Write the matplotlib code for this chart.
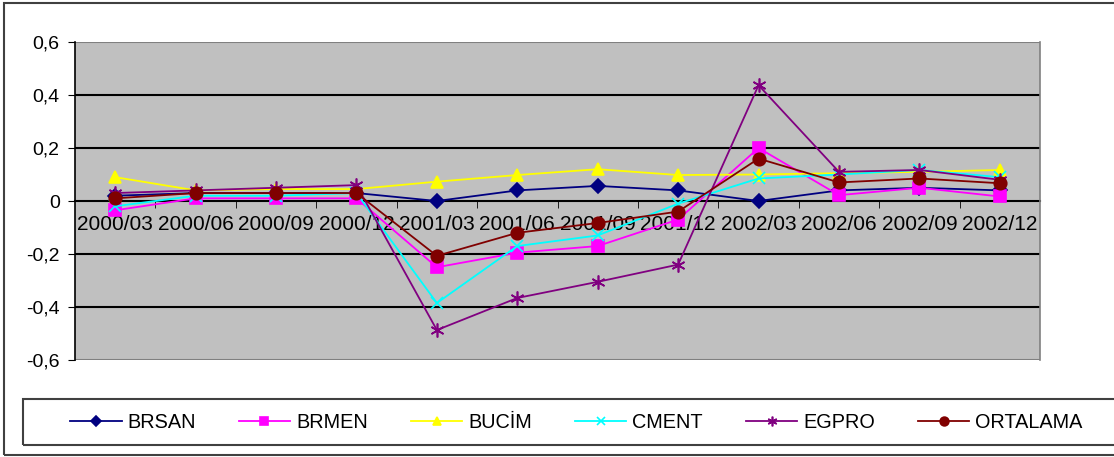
import matplotlib
matplotlib.use("Agg")
import matplotlib.pyplot as plt
from matplotlib.patches import Rectangle

plt.rcParams['font.family'] = ['Liberation Sans', 'DejaVu Sans']

quarters = ["2000/03", "2000/06", "2000/09", "2000/12", "2001/03", "2001/06",
            "2001/09", "2001/12", "2002/03", "2002/06", "2002/09", "2002/12"]

brsan = [0.02, 0.03, 0.03, 0.03, 0.00, 0.04, 0.057, 0.04, 0.00, 0.04, 0.05, 0.04]
brmen = [-0.035, 0.01, 0.01, 0.01, -0.25, -0.195, -0.17, -0.07, 0.20, 0.022, 0.05, 0.017]
bucim = [0.09, 0.04, 0.045, 0.045, 0.073, 0.098, 0.12, 0.098, 0.10, 0.105, 0.11, 0.117]
cment = [-0.02, 0.02, 0.02, 0.03, -0.385, -0.17, -0.13, -0.01, 0.085, 0.10, 0.117, 0.09]
egpro = [0.03, 0.04, 0.05, 0.06, -0.487, -0.366, -0.305, -0.24, 0.437, 0.11, 0.117, 0.08]
ortalama = [0.01, 0.03, 0.03, 0.03, -0.207, -0.12, -0.083, -0.04, 0.16, 0.07, 0.085, 0.067]

series = [
    ("BRSAN", brsan, "#000080", "D", 7),
    ("BRMEN", brmen, "#FF00FF", "s", 8),
    ("BUCİM", bucim, "#FFFF00", "^", 9),
    ("CMENT", cment, "#00FFFF", "x", 8),
    ("EGPRO", egpro, "#800080", (6, 2, 0), 10),
    ("ORTALAMA", ortalama, "#800000", "o", 9),
]

W, H = 1114, 457
fig = plt.figure(figsize=(W / 100, H / 100), dpi=100)
ax = fig.add_axes([75 / W, 1 - 360 / H, 965 / W, 318 / H])
ax.set_facecolor("#C0C0C0")

x = list(range(len(quarters)))
handles = []
for name, vals, col, mk, ms in series:
    h, = ax.plot(x, vals, color=col, lw=1.3, marker=mk, markersize=ms,
                 markeredgecolor=col, markerfacecolor=col, markeredgewidth=1.2,
                 label=name, zorder=3)
    handles.append(h)

ax.set_xlim(-0.5, 11.5)
ax.set_ylim(-0.6, 0.6)
yt = [-0.6, -0.4, -0.2, 0, 0.2, 0.4, 0.6]
ax.set_yticks(yt)
ax.set_yticklabels([("%.1f" % v).replace(".", ",") if v != 0 else "0" for v in yt],
                   fontsize=14)
for v in [-0.4, -0.2, 0.2, 0.4]:
    ax.axhline(v, color="black", lw=1.5, zorder=1)

# x axis sits at zero
ax.spines['bottom'].set_position(('data', 0))
ax.spines['bottom'].set_color("black")
ax.spines['bottom'].set_linewidth(1.5)
ax.spines['bottom'].set_zorder(1)
ax.spines['left'].set_color("black")
ax.spines['left'].set_linewidth(1.2)
ax.spines['top'].set_visible(False)
ax.spines['right'].set_color("#808080")
ax.spines['right'].set_linewidth(1.2)
ax.axhline(0.6, color="#808080", lw=1.5, zorder=1)
ax.axhline(-0.6, color="#808080", lw=1.5, zorder=1)

ax.set_xticks(x)
ax.set_xticklabels(quarters, fontsize=15)
ax.set_xticks([i + 0.5 for i in x[:-1]], minor=True)
ax.tick_params(axis='x', which='major', length=0, pad=10)
ax.tick_params(axis='x', which='minor', length=5, direction='out', color="black")
ax.tick_params(axis='y', length=5, color="black", pad=6)
for lbl in ax.get_xticklabels():
    lbl.set_zorder(2)

# chart border and legend box
fig.patches.append(Rectangle((4 / W, 2 / H), 1.2, (H - 5) / H, transform=fig.transFigure,
                             fill=False, ec="#404040", lw=1.5, zorder=0))
fig.patches.append(Rectangle((23 / W, 1 - 445 / H), 1.2, 46 / H, transform=fig.transFigure,
                             fill=False, ec="#404040", lw=1.5, zorder=0))

fig.legend(handles=handles, loc="center left", bbox_to_anchor=(52 / W, 1 - 422 / H),
           ncol=6, frameon=False, fontsize=14.3, handlelength=2.6, columnspacing=2.15,
           handletextpad=0.3, markerscale=0.7)

fig.savefig("out.png", dpi=100)
